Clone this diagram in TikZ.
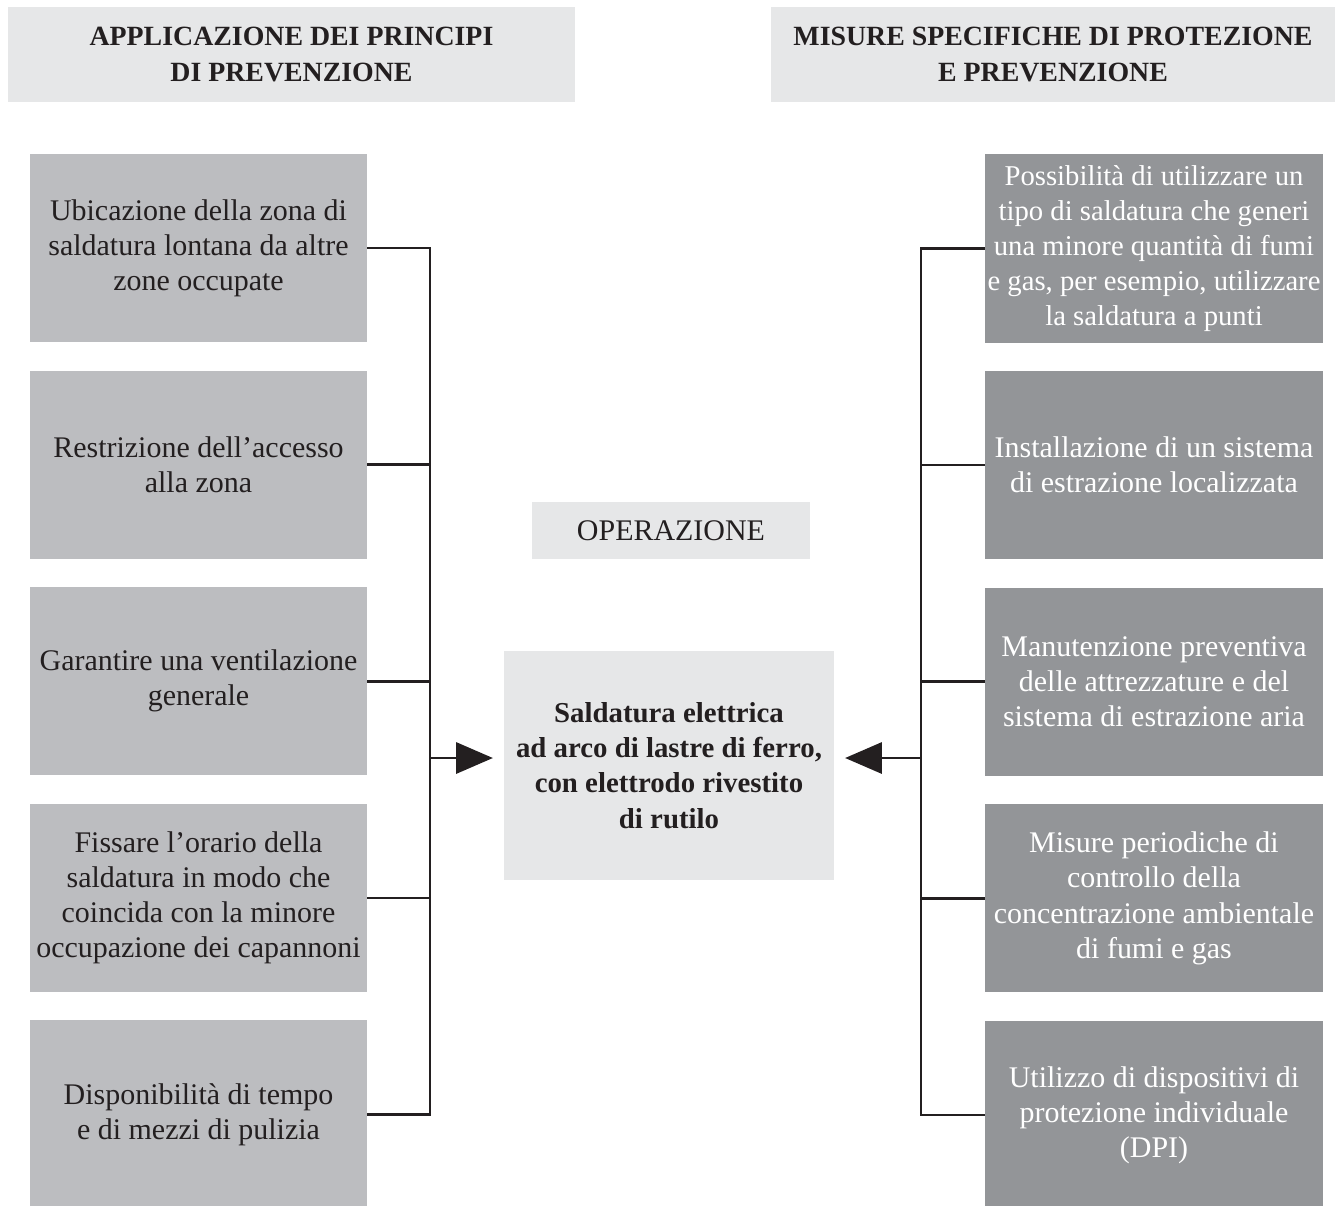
\documentclass[tikz,border=0pt]{standalone}
\usepackage{fontspec}
\setmainfont{Liberation Serif}
\usetikzlibrary{arrows.meta,positioning}
\definecolor{boxlight}{HTML}{E6E7E8}
\definecolor{boxmid}{HTML}{BCBDC0}
\definecolor{boxdark}{HTML}{939598}
\definecolor{inkdark}{HTML}{231F20}
\tikzset{
  hdrbox/.style={fill=boxlight, text=inkdark, minimum width=14.15cm, minimum height=2.375cm,
    align=center, inner sep=0pt, font=\fontsize{19.8}{25}\selectfont\bfseries},
  prinbox/.style={fill=boxmid, text=inkdark, minimum width=8.425cm, minimum height=4.7cm,
    align=center, inner sep=0pt, font=\fontsize{21.3}{25}\selectfont},
  misbox/.style={fill=boxdark, text=white, minimum width=8.45cm, minimum height=4.7cm,
    align=center, inner sep=0pt, font=\fontsize{21.3}{25}\selectfont},
  conn/.style={draw=inkdark, line width=1.8pt},
  arr/.style={conn, -{Triangle[length=0.92cm,width=0.78cm]}, shorten >=0.27cm},
}
\begin{document}
\begin{tikzpicture}[x=0.025cm, y=-0.025cm, node distance=0.7cm]
    \useasboundingbox (0,0) rectangle (1335,1205);

    % headers
    \node[hdrbox] (hp) at (291.5,54.5) {APPLICAZIONE DEI PRINCIPI\\DI PREVENZIONE};
    \node[hdrbox, minimum width=14.1cm] (hm) at (1053,54.5) {MISURE SPECIFICHE DI PROTEZIONE\\E PREVENZIONE};

    % principi di prevenzione
    \node[prinbox] (p1) at (198.5,248) {Ubicazione della zona di\\saldatura lontana da altre\\zone occupate};
    \node[prinbox, below=of p1] (p2) {Restrizione dell'accesso\\alla zona};
    \node[prinbox, below=of p2] (p3) {Garantire una ventilazione\\generale};
    \node[prinbox, below=of p3] (p4) {Fissare l'orario della\\saldatura in modo che\\coincida con la minore\\occupazione dei capannoni};
    \node[prinbox, below=of p4] (p5) {Disponibilità di tempo\\e di mezzi di pulizia};

    % misure specifiche
    \node[misbox, font=\fontsize{20.4}{25}\selectfont] (m1) at (1154,248.5) {Possibilità di utilizzare un\\tipo di saldatura che generi\\una minore quantità di fumi\\e gas, per esempio, utilizzare\\la saldatura a punti};
    \node[misbox, below=of m1] (m2) {Installazione di un sistema\\di estrazione localizzata};
    \node[misbox, below=of m2] (m3) {Manutenzione preventiva\\delle attrezzature e del\\sistema di estrazione aria};
    \node[misbox, below=of m3] (m4) {Misure periodiche di\\controllo della\\concentrazione ambientale\\di fumi e gas};
    \node[misbox, below=of m4] (m5) {Utilizzo di dispositivi di\\protezione individuale\\(DPI)};

    % operazione
    \node[fill=boxlight, text=inkdark, minimum width=6.95cm, minimum height=1.425cm, inner sep=0pt,
      font=\fontsize{21.3}{25}\selectfont] (op) at (671,530.5) {OPERAZIONE};
    \node[fill=boxlight, text=inkdark, minimum width=8.25cm, minimum height=5.725cm, inner sep=0pt,
      align=center, font=\fontsize{20.5}{25}\selectfont\bfseries] (sald) at (669,765.5)
      {Saldatura elettrica\\ad arco di lastre di ferro,\\con elettrodo rivestito\\di rutilo};

    % connettori
    \coordinate (lbot) at (430,0 |- p5.east);
    \coordinate (rbot) at (921,0 |- m5.west);
    \draw[conn] (p1.east) -| (lbot) -- (p5.east);
    \draw[conn] (m1.west) -| (rbot) -- (m5.west);
    \foreach \i in {2,3,4} {
        \draw[conn] (p\i.east) -- (p\i.east -| lbot);
        \draw[conn] (m\i.west) -- (m\i.west -| rbot);
    }
    \coordinate (larr) at (430,758);
    \coordinate (rarr) at (921,758);
    \draw[arr] (larr) -- (larr -| sald.west);
    \draw[arr] (rarr) -- (rarr -| sald.east);
\end{tikzpicture}
\end{document}
